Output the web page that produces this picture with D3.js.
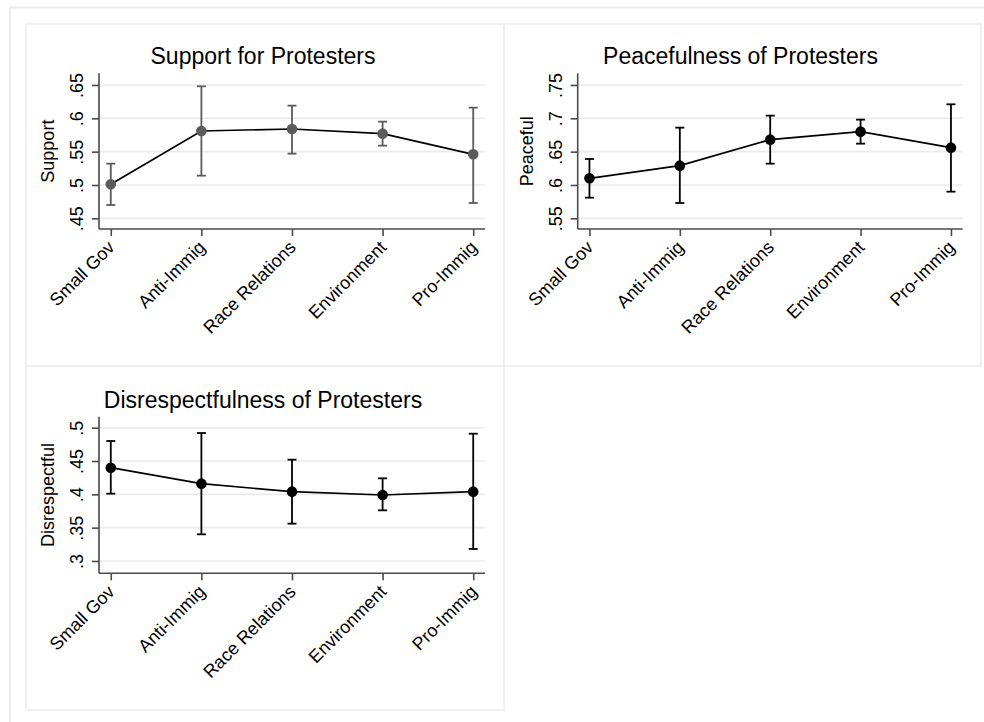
<!DOCTYPE html>
<html>
<head>
<meta charset="utf-8">
<script src="https://cdnjs.cloudflare.com/ajax/libs/d3/7.8.5/d3.min.js"></script>
<style>
  html, body { margin: 0; padding: 0; background: #ffffff; }
  svg { display: block; font-family: "Liberation Sans", Arial, sans-serif; }
</style>
</head>
<body>
<script>
// ---------------- DATA ----------------
const categories = ["Small Gov", "Anti-Immig", "Race Relations", "Environment", "Pro-Immig"];

const supportMean = [0.501, 0.581, 0.584, 0.577, 0.546];
const supportLo   = [0.470, 0.514, 0.547, 0.559, 0.473];
const supportHi   = [0.532, 0.648, 0.619, 0.595, 0.616];

const peaceMean = [0.610, 0.629, 0.668, 0.680, 0.656];
const peaceLo   = [0.581, 0.573, 0.632, 0.662, 0.590];
const peaceHi   = [0.639, 0.686, 0.704, 0.698, 0.721];

const disMean = [0.440, 0.416, 0.404, 0.399, 0.404];
const disLo   = [0.401, 0.340, 0.356, 0.376, 0.318];
const disHi   = [0.480, 0.492, 0.452, 0.424, 0.491];

const supportTicks = [0.45, 0.50, 0.55, 0.60, 0.65];
const supportTickLabels = [".45", ".5", ".55", ".6", ".65"];
const peaceTicks = [0.55, 0.60, 0.65, 0.70, 0.75];
const peaceTickLabels = [".55", ".6", ".65", ".7", ".75"];
const disTicks = [0.30, 0.35, 0.40, 0.45, 0.50];
const disTickLabels = [".3", ".35", ".4", ".45", ".5"];

const titles = ["Support for Protesters", "Peacefulness of Protesters", "Disrespectfulness of Protesters"];
const yTitles = ["Support", "Peaceful", "Disrespectful"];

// ---------------- LAYOUT ----------------
const W = 984, H = 722;
const svg = d3.select("body").append("svg").attr("width", W).attr("height", H);

const frameColor = "#ececec";
// outer frame (cropped on right/bottom)
svg.append("rect").attr("x", 10).attr("y", 7.5).attr("width", 990).attr("height", 730)
  .attr("fill", "none").attr("stroke", frameColor).attr("stroke-width", 2);

const panels = [
  { box: [26, 24, 504, 366], plot: [99, 73.3, 485, 229], dom: [0.434, 0.6675],
    mean: supportMean, lo: supportLo, hi: supportHi, ticks: supportTicks, tickLabels: supportTickLabels,
    title: titles[0], yTitle: yTitles[0], markColor: "#5b5b5b" },
  { box: [504, 24, 981, 366], plot: [577.7, 73.3, 962.7, 229], dom: [0.534, 0.7675],
    mean: peaceMean, lo: peaceLo, hi: peaceHi, ticks: peaceTicks, tickLabels: peaceTickLabels,
    title: titles[1], yTitle: yTitles[1], markColor: "#000000" },
  { box: [26, 366, 504, 710], plot: [99, 416.7, 485, 573.3], dom: [0.2815, 0.5165],
    mean: disMean, lo: disLo, hi: disHi, ticks: disTicks, tickLabels: disTickLabels,
    title: titles[2], yTitle: yTitles[2], markColor: "#000000" }
];

const axisColor = "#4a4a4a";

panels.forEach(p => {
  const [bx0, by0, bx1, by1] = p.box;
  const [px0, py0, px1, py1] = p.plot;
  const g = svg.append("g");

  // panel border
  g.append("rect").attr("x", bx0).attr("y", by0).attr("width", bx1 - bx0).attr("height", by1 - by0)
    .attr("fill", "#ffffff").attr("stroke", frameColor).attr("stroke-width", 1.5);

  const x = d3.scalePoint().domain(categories).range([px0, px1]).padding(0.13);
  const y = d3.scaleLinear().domain(p.dom).range([py1, py0]);

  // gridlines
  g.selectAll(".grid").data(p.ticks).join("line")
    .attr("x1", px0).attr("x2", px1)
    .attr("y1", d => y(d)).attr("y2", d => y(d))
    .attr("stroke", "#eaeaea").attr("stroke-width", 1.6);

  // y axis
  const yAxis = d3.axisLeft(y).tickValues(p.ticks)
    .tickFormat((d, i) => p.tickLabels[i]).tickSize(7).tickPadding(8);
  const ya = g.append("g").attr("transform", `translate(${px0},0)`).call(yAxis);
  ya.select(".domain").attr("d", `M0,${py0}V${py1}`).attr("stroke", axisColor).attr("stroke-width", 1.6);
  ya.selectAll(".tick line").attr("stroke", axisColor).attr("stroke-width", 1.6);
  ya.selectAll(".tick text")
    .attr("x", null).attr("dy", null)
    .attr("transform", "translate(-16,0) rotate(-90)")
    .attr("text-anchor", "middle")
    .attr("fill", "#000").style("font-size", "18px");

  // x axis
  const xAxis = d3.axisBottom(x).tickSize(7).tickPadding(8);
  const xa = g.append("g").attr("transform", `translate(0,${py1})`).call(xAxis);
  xa.select(".domain").attr("d", `M${px0},0H${px1}`).attr("stroke", axisColor).attr("stroke-width", 1.6);
  xa.selectAll(".tick line").attr("stroke", axisColor).attr("stroke-width", 1.6);
  xa.selectAll(".tick text")
    .attr("y", null).attr("dy", "0.35em")
    .attr("transform", "translate(0,15) rotate(-45)")
    .attr("text-anchor", "end")
    .attr("fill", "#000").style("font-size", "18px");

  // error bars
  const capW = 4.5;
  const eb = g.append("g").attr("stroke", p.markColor).attr("stroke-width", 1.8).attr("fill", "none");
  categories.forEach((c, i) => {
    const cx = x(c);
    eb.append("line").attr("x1", cx).attr("x2", cx).attr("y1", y(p.lo[i])).attr("y2", y(p.hi[i]));
    eb.append("line").attr("x1", cx - capW).attr("x2", cx + capW).attr("y1", y(p.lo[i])).attr("y2", y(p.lo[i]));
    eb.append("line").attr("x1", cx - capW).attr("x2", cx + capW).attr("y1", y(p.hi[i])).attr("y2", y(p.hi[i]));
  });

  // connecting line
  const line = d3.line().x((d, i) => x(categories[i])).y(d => y(d));
  g.append("path").datum(p.mean).attr("d", line)
    .attr("fill", "none").attr("stroke", "#000").attr("stroke-width", 1.7);

  // markers
  g.selectAll(".pt").data(p.mean).join("circle")
    .attr("cx", (d, i) => x(categories[i])).attr("cy", d => y(d)).attr("r", 5.3)
    .attr("fill", p.markColor);

  // title
  g.append("text").attr("x", (bx0 + bx1) / 2 - 2).attr("y", py0 - 9)
    .attr("text-anchor", "middle").style("font-size", "23px").attr("fill", "#000")
    .text(p.title);

  // y-axis title
  g.append("text")
    .attr("transform", `translate(${px0 - 45},${(py0 + py1) / 2}) rotate(-90)`)
    .attr("text-anchor", "middle").style("font-size", "18px").attr("fill", "#000")
    .text(p.yTitle);
});
</script>
</body>
</html>
